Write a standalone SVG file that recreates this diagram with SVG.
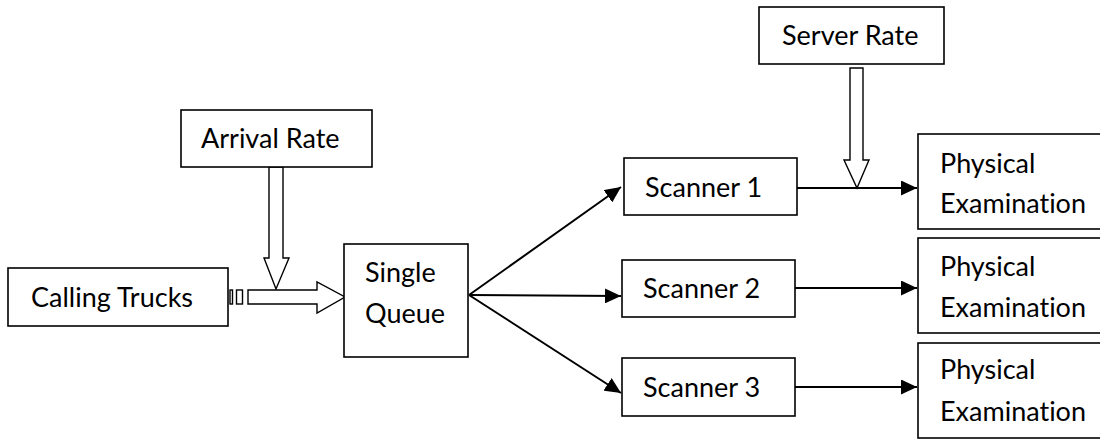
<svg xmlns="http://www.w3.org/2000/svg" width="1100" height="439" viewBox="0 0 1100 439">
<style>
  .box { fill: #fff; stroke: #000; stroke-width: 1.6; }
  .blk { fill: #fff; stroke: #000; stroke-width: 1.4; stroke-linejoin: miter; }
  .lbl { font-family: Lato, "Liberation Sans", sans-serif; font-size: 27px; fill: #000; font-variant-ligatures: none; }
  .conn { fill: none; stroke: #000; stroke-width: 2; }
</style>
<defs>
  <marker id="ah" markerUnits="userSpaceOnUse" markerWidth="17" markerHeight="15" refX="16" refY="7.5" orient="auto">
    <path d="M0,0 L16,7.5 L0,15 Z" fill="#000"/>
  </marker>
</defs>
<rect width="1100" height="439" fill="#fff"/>

<g id="connectors">
  <line class="conn" x1="469" y1="295" x2="621" y2="187" marker-end="url(#ah)"/>
  <line class="conn" x1="469" y1="295" x2="621" y2="296" marker-end="url(#ah)"/>
  <line class="conn" x1="469" y1="295" x2="621" y2="393" marker-end="url(#ah)"/>
  <line class="conn" x1="797" y1="188" x2="917" y2="188" marker-end="url(#ah)"/>
  <line class="conn" x1="795" y1="288" x2="917" y2="288" marker-end="url(#ah)"/>
  <line class="conn" x1="795" y1="387" x2="917" y2="387" marker-end="url(#ah)"/>
  <g id="arrival-arrow">
    <polygon class="blk" points="269,167 283,167 283,258 289,258 276,289 264,258 269,258"/>
  </g>
  <g id="server-arrow">
    <polygon class="blk" points="850,68 863,68 863,160 869,160 857,188 844,160 850,160"/>
  </g>
  <g id="striped-arrow">
    <rect class="blk" x="230" y="290" width="2.5" height="14"/>
    <rect class="blk" x="236.5" y="290" width="6" height="14"/>
    <polygon class="blk" points="248,290 317,290 317,282 345,297 317,313 317,304 248,304"/>
  </g>
</g>

<g id="calling-trucks">
  <rect class="box" x="8" y="268" width="220" height="58"/>
  <text class="lbl" x="31" y="307">Calling Trucks</text>
</g>
<g id="arrival-rate">
  <rect class="box" x="181" y="110" width="191" height="57"/>
  <text class="lbl" x="201" y="148">Arrival Rate</text>
</g>
<g id="single-queue">
  <rect class="box" x="344" y="244" width="124" height="113"/>
  <text class="lbl" x="365" y="282">Single</text>
  <text class="lbl" x="365" y="323">Queue</text>
</g>
<g id="server-rate">
  <rect class="box" x="759" y="7" width="185" height="57"/>
  <text class="lbl" x="782" y="45">Server Rate</text>
</g>
<g id="scanner-1">
  <rect class="box" x="624" y="158" width="173" height="57"/>
  <text class="lbl" x="645" y="197">Scanner 1</text>
</g>
<g id="scanner-2">
  <rect class="box" x="622" y="260" width="173" height="57"/>
  <text class="lbl" x="643" y="298">Scanner 2</text>
</g>
<g id="scanner-3">
  <rect class="box" x="622" y="358" width="173" height="58"/>
  <text class="lbl" x="643" y="397">Scanner 3</text>
</g>
<g id="physical-1">
  <rect class="box" x="918" y="134" width="184" height="95"/>
  <text class="lbl" x="940" y="173">Physical</text>
  <text class="lbl" x="940" y="213">Examination</text>
</g>
<g id="physical-2">
  <rect class="box" x="918" y="238" width="184" height="95"/>
  <text class="lbl" x="940" y="276">Physical</text>
  <text class="lbl" x="940" y="317">Examination</text>
</g>
<g id="physical-3">
  <rect class="box" x="918" y="343" width="184" height="95"/>
  <text class="lbl" x="940" y="379">Physical</text>
  <text class="lbl" x="940" y="421">Examination</text>
</g>
</svg>
